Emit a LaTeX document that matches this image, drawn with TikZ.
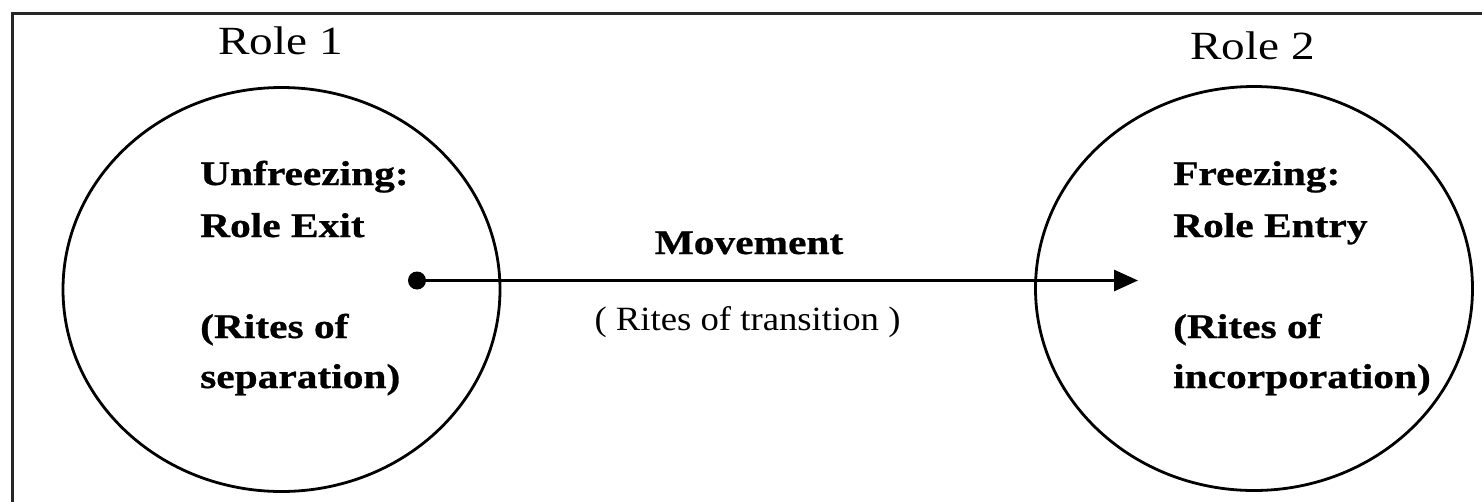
\documentclass[tikz,border=0pt]{standalone}
\usepackage{fontspec}
\setmainfont{Liberation Serif}
\newfontfamily\innerfont[FakeStretch=1.2,FakeBold=0.8]{Liberation Serif}
\newfontfamily\rolefont[FakeStretch=1.18]{Liberation Serif}
\newfontfamily\ritefont[FakeStretch=1.08]{Liberation Serif}
\usetikzlibrary{shapes.geometric,arrows.meta}
\begin{document}
\begin{tikzpicture}[x=1pt,y=-1pt,
  rolecircle/.style={draw, line width=2.8pt, ellipse, minimum width=437pt, minimum height=404pt, inner sep=0pt},
  roletitle/.style={anchor=base, inner sep=0pt, font=\rolefont\fontsize{40}{44}\selectfont},
  inner/.style={anchor=base west, inner sep=0pt, font=\innerfont\bfseries\fontsize{34.5}{40}\selectfont},
  midlabel/.style={anchor=base, inner sep=0pt, font=\innerfont\bfseries\fontsize{34.5}{40}\selectfont},
  ritelabel/.style={anchor=base, inner sep=0pt, font=\ritefont\fontsize{34}{40}\selectfont},
  frameline/.style={draw, line width=2.8pt, black!85},
  conn/.style={line width=3pt, -{Triangle[length=24pt,width=21pt]}},
  dotnode/.style={circle, fill, inner sep=0pt, minimum size=18pt}]
\clip (0,0) rectangle (1482,501);
\path[frameline] (12.7,13.3) rectangle (1500,520);

\node[rolecircle] (c1) at (281.5,289.5) {};
\node[rolecircle] (c2) at (1254,288.5) {};

\node[roletitle] (r1) at (280.5,54.5) {Role 1};
\node[roletitle] (r2) at (1252.5,59) {Role 2};

\node[inner] (l1) at (200,185) {Unfreezing:};
\node[inner] (l2) at (200,237) {Role Exit};
\node[inner] (l3) at (200,338) {(Rites of};
\node[inner] (l4) at (200,388) {separation)};

\node[inner] (q1) at (1173,185) {Freezing:};
\node[inner] (q2) at (1173,237) {Role Entry};
\node[inner] (q3) at (1173,338) {(Rites of};
\node[inner] (q4) at (1173,388) {incorporation)};

\node[dotnode] (dot) at (417,280.5) {};
\coordinate (tip) at (1138,280.5);
\draw[conn] (dot.center) -- (tip);

\node[midlabel] (mv) at (749,254) {Movement};
\node[ritelabel] (rt) at (747.5,330) {( Rites of transition )};
\end{tikzpicture}
\end{document}
